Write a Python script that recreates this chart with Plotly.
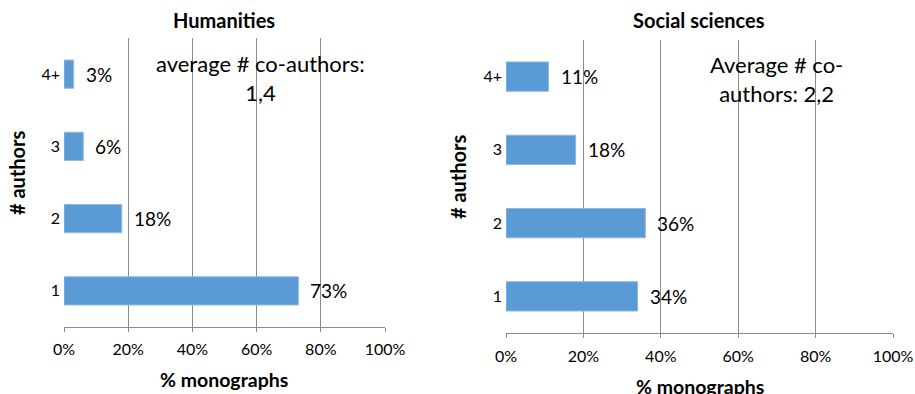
import plotly.graph_objects as go

# Data: share of monographs by number of authors
categories = ["1", "2", "3", "4+"]
humanities = [73, 18, 6, 3]
social_sciences = [34, 36, 18, 11]
x_tickvals = [0, 20, 40, 60, 80, 100]
x_ticktext = ["0%", "20%", "40%", "60%", "80%", "100%"]

W, H = 915, 394
FONT = "Lato, Calibri, Carlito, sans-serif"
BAR = "#5B9BD5"
GRID = "#8C8C8C"

fig = go.Figure()

fig.add_trace(go.Bar(x=humanities, y=categories, orientation="h", width=0.39,
                     marker=dict(color=BAR, line=dict(color="#8DB8E2", width=1)),
                     xaxis="x", yaxis="y", hoverinfo="skip"))
fig.add_trace(go.Bar(x=social_sciences, y=categories, orientation="h", width=0.4,
                     marker=dict(color=BAR, line=dict(color="#8DB8E2", width=1)),
                     xaxis="x2", yaxis="y2", hoverinfo="skip"))

# value labels beside the bars (category axis positions are indices)
annotations = []
for i, v in enumerate(humanities):
    annotations.append(dict(x=v, y=i, xref="x", yref="y", text=f"{v}%", showarrow=False,
                            xanchor="left", yanchor="middle", xshift=10,
                            font=dict(size=19, color="#000")))
for i, v in enumerate(social_sciences):
    annotations.append(dict(x=v, y=i, xref="x2", yref="y2", text=f"{v}%", showarrow=False,
                            xanchor="left", yanchor="middle", xshift=10,
                            font=dict(size=19, color="#000")))

def px_x(p):
    return p / W

def px_y(p):
    return 1 - p / H

def note(x, y, text, size, angle=0):
    return dict(x=px_x(x), y=px_y(y), xref="paper", yref="paper", text=text,
                showarrow=False, xanchor="center", yanchor="middle", align="center",
                textangle=angle, font=dict(size=size, color="#000"))

# panel titles
annotations.append(note(224, 20, "<b>Humanities</b>", 20))
annotations.append(note(699, 20, "<b>Social sciences</b>", 20))
# axis titles
annotations.append(note(224, 379, "<b>% monographs</b>", 19.5))
annotations.append(note(700, 386, "<b>% monographs</b>", 19.5))
annotations.append(note(17, 173, "<b># authors</b>", 20, -90))
annotations.append(note(458, 176, "<b># authors</b>", 20, -90))
# average co-author notes
annotations.append(note(260, 78, "average # co-authors:<br>1,4", 22))
annotations.append(note(776, 79, "Average # co-<br>authors: 2,2", 22))

xaxis_common = dict(range=[0, 100], tickvals=x_tickvals, ticktext=x_ticktext,
                    showgrid=True, gridcolor=GRID, gridwidth=1, zeroline=False,
                    showline=True, linecolor=GRID, linewidth=1,
                    ticks="outside", ticklen=4, tickcolor=GRID, automargin=False,
                    tickfont=dict(size=16, color="#000"), fixedrange=True)
yaxis_common = dict(showgrid=False, zeroline=False, showline=False, ticks="", automargin=False,
                    tickfont=dict(size=16, color="#000"), ticklabelstandoff=3,
                    range=[-0.5, 3.5], fixedrange=True)

fig.update_layout(
    width=W, height=H,
    margin=dict(l=0, r=0, t=0, b=0),
    paper_bgcolor="white", plot_bgcolor="white",
    font=dict(family=FONT, color="#000"),
    showlegend=False,
    xaxis=dict(domain=[64 / W, 385 / W], anchor="y", ticklabelstandoff=4, **xaxis_common),
    yaxis=dict(domain=[1 - 327 / H, 1 - 38 / H], anchor="x", **yaxis_common),
    xaxis2=dict(domain=[506 / W, 893 / W], anchor="y2", ticklabelstandoff=5, **xaxis_common),
    yaxis2=dict(domain=[1 - 333 / H, 1 - 40 / H], anchor="x2", **yaxis_common),
    annotations=annotations,
)

fig.write_html("out.html")
